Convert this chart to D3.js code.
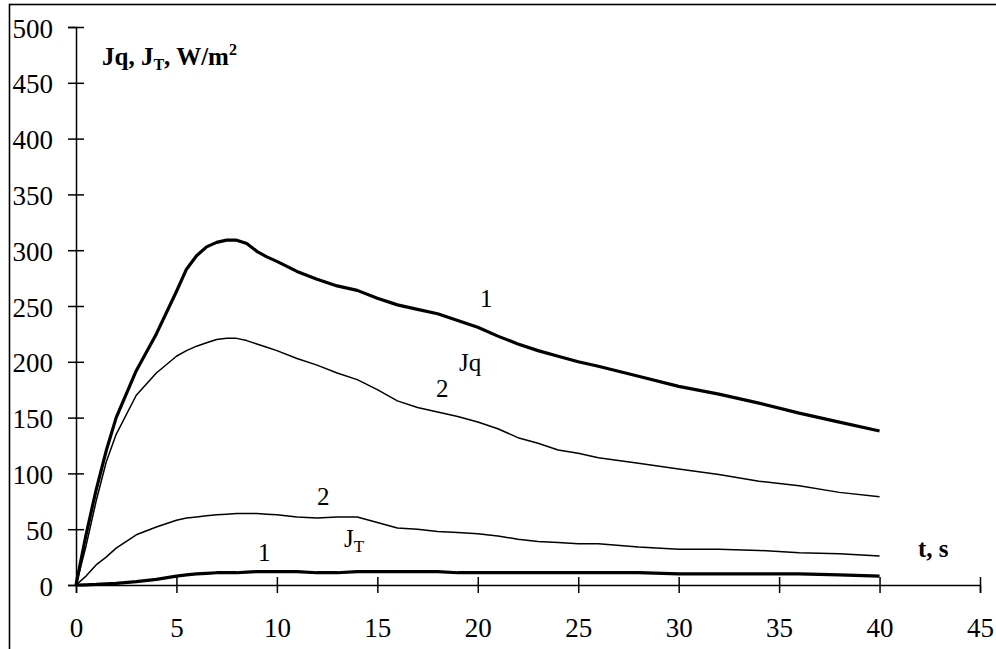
<!DOCTYPE html>
<html>
<head>
<meta charset="utf-8">
<script src="https://cdn.jsdelivr.net/npm/d3@7"></script>
<style>
  body { margin: 0; background: #fff; }
  svg text { font-family: "Times New Roman", "Liberation Serif", Tinos, "DejaVu Serif", serif; fill: #000; }
  .axis path, .axis line { stroke: #000; stroke-width: 1.5; }
  .axis text { font-size: 27px; }
</style>
</head>
<body>
<div id="chart"></div>
<script>
// time points, s
var times = [0, 0.5, 1, 1.5, 2, 3, 4, 5, 5.5, 6, 6.5, 7, 7.5, 8, 8.5, 9, 9.5, 10, 11, 12, 13, 14, 15, 16, 17, 18, 19, 20,
             21, 22, 23, 24, 25, 26, 28, 30, 32, 34, 36, 38, 40];

// Jq, curve 1 and 2
var jq1 = [0, 45, 85, 120, 150, 192, 225, 263, 283, 295, 303, 307, 309, 309, 306, 299, 294, 290, 281, 274, 268, 264, 257, 251, 247, 243, 237, 231,
           223, 216, 210, 205, 200, 196, 187, 178, 171, 163, 154, 146, 138];
var jq2 = [0, 35, 75, 110, 135, 170, 190, 205, 210, 214, 217, 220, 221, 221, 219, 216, 213, 210, 203, 197, 190, 184, 175, 165, 159, 155, 151, 146,
           140, 132, 127, 121, 118, 114, 109, 104, 99, 93, 89, 83, 79];

// JT, curve 1 and 2
var jt1 = [0, 0.2, 0.5, 1, 1.5, 3, 5, 8, 9, 10, 10.5, 11, 11, 11, 11.5, 12, 12, 12, 12, 11, 11, 12, 12, 12, 12, 12, 11, 11,
           11, 11, 11, 11, 11, 11, 11, 10, 10, 10, 10, 9, 8];
var jt2 = [0, 8, 18, 25, 33, 45, 52, 58, 60, 61, 62, 63, 63.5, 64, 64, 64, 63.5, 63, 61, 60, 61, 61, 56, 51, 50, 48, 47, 46,
           44, 41, 39, 38, 37, 37, 34, 32, 32, 31, 29, 28, 26];

var xTicks = [0, 5, 10, 15, 20, 25, 30, 35, 40, 45];
var yTicks = [0, 50, 100, 150, 200, 250, 300, 350, 400, 450, 500];

var width = 996, height = 649;

var svg = d3.select("#chart").append("svg")
    .attr("width", width)
    .attr("height", height);

// outer frame (only top + left visible)
svg.append("rect")
    .attr("x", 9.5).attr("y", 4.5)
    .attr("width", 1000).attr("height", 700)
    .attr("fill", "none")
    .attr("stroke", "#000")
    .attr("stroke-width", 1.6);

var x = d3.scaleLinear().domain([0, 45]).range([76, 980]);
var y = d3.scaleLinear().domain([0, 500]).range([585, 27]);

var xAxis = svg.append("g")
    .attr("class", "axis")
    .attr("transform", "translate(0," + y(0) + ")")
    .call(d3.axisBottom(x).tickValues(xTicks).tickSizeOuter(0).tickSize(8));
xAxis.attr("font-family", null).attr("font-size", null);
xAxis.selectAll(".tick line").attr("y1", -8).attr("y2", 8);
xAxis.selectAll(".tick text").attr("dy", null).attr("y", 52);

var yAxis = svg.append("g")
    .attr("class", "axis")
    .attr("transform", "translate(" + x(0) + ",0)")
    .call(d3.axisLeft(y).tickValues(yTicks).tickSizeOuter(0).tickSize(8));
yAxis.attr("font-family", null).attr("font-size", null);
yAxis.selectAll(".tick line").attr("x1", -8).attr("x2", 8);
yAxis.selectAll(".tick text").attr("x", -23).attr("dy", null).attr("y", 10);

var line = function(vals) {
  return d3.line()
    .x(function(d, i) { return x(times[i]); })
    .y(function(d) { return y(d); })(vals);
};

var series = [
  { vals: jq1, w: 3.2 },
  { vals: jq2, w: 1.5 },
  { vals: jt1, w: 3.2 },
  { vals: jt2, w: 1.5 }
];

svg.selectAll(".curve")
  .data(series)
  .enter().append("path")
    .attr("class", "curve")
    .attr("d", function(d) { return line(d.vals); })
    .attr("fill", "none")
    .attr("stroke", "#000")
    .attr("stroke-width", function(d) { return d.w; })
    .attr("stroke-linejoin", "round");

// axis titles
var yt = svg.append("text")
    .attr("x", 102).attr("y", 65)
    .style("font-size", "25px").style("font-weight", "bold");
yt.append("tspan").text("Jq, J");
yt.append("tspan").text("T").attr("dy", 5).style("font-size", "16px");
yt.append("tspan").text(", W/m").attr("dy", -5);
yt.append("tspan").text("2").attr("dy", -10).style("font-size", "16px");

svg.append("text")
    .attr("x", 918).attr("y", 557)
    .style("font-size", "25px").style("font-weight", "bold")
    .text("t, s");

// curve labels
var labels = [
  { t: "1", x: 480, y: 307 },
  { t: "2", x: 436, y: 397 },
  { t: "2", x: 317, y: 505 },
  { t: "1", x: 258, y: 561 }
];
svg.selectAll(".lbl")
  .data(labels)
  .enter().append("text")
    .attr("class", "lbl")
    .attr("x", function(d) { return d.x; })
    .attr("y", function(d) { return d.y; })
    .style("font-size", "25px")
    .text(function(d) { return d.t; });

svg.append("text")
    .attr("x", 459).attr("y", 371)
    .style("font-size", "25px")
    .text("Jq");

var jt = svg.append("text")
    .attr("x", 344).attr("y", 547)
    .style("font-size", "25px");
jt.append("tspan").text("J");
jt.append("tspan").text("T").attr("dy", 5).style("font-size", "17px");
</script>
</body>
</html>
